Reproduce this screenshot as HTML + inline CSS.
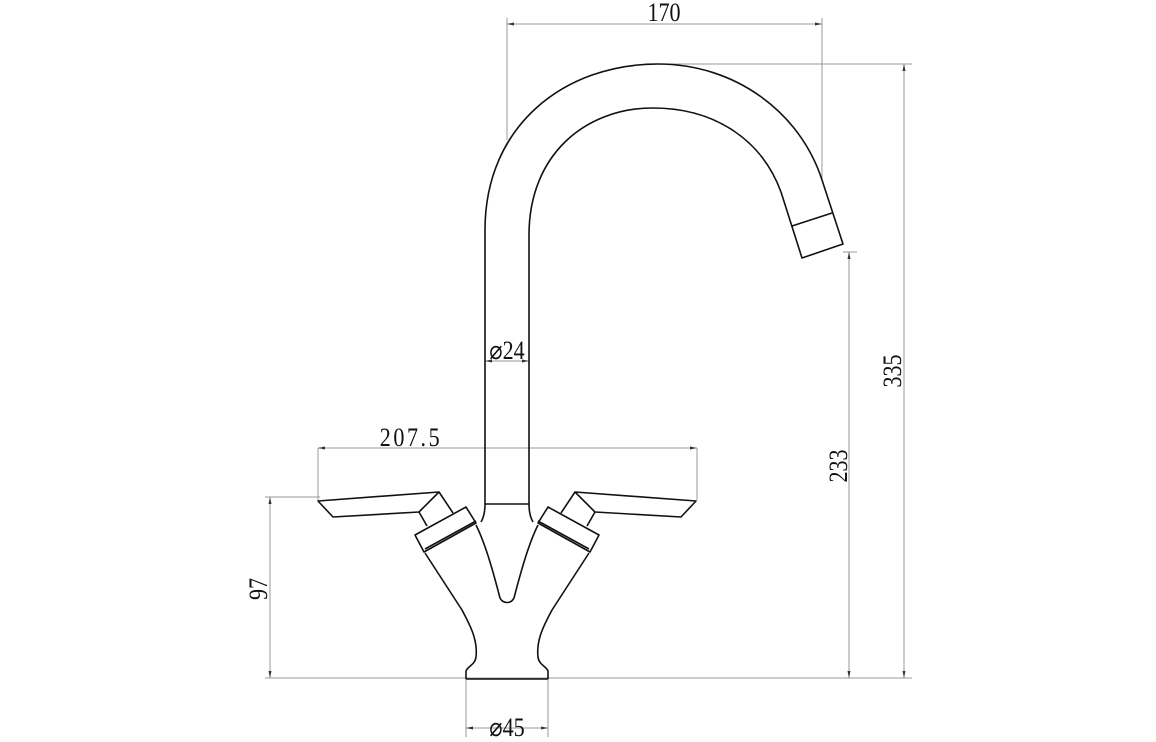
<!DOCTYPE html>
<html><head><meta charset="utf-8"><style>
html,body{margin:0;padding:0;background:#fff;}
svg{display:block}
text{font-family:"Liberation Serif",serif;fill:#111;font-size:26px;}
</style></head><body>
<svg width="1156" height="742" viewBox="0 0 1156 742" xmlns="http://www.w3.org/2000/svg">
<g stroke="#999" stroke-width="1" fill="none">
  <line x1="507" y1="18" x2="507" y2="140"/>
  <line x1="822" y1="18" x2="822" y2="180"/>
  <line x1="507" y1="24" x2="822" y2="24"/>
  <line x1="658" y1="64" x2="912" y2="64"/>
  <line x1="904" y1="64" x2="904" y2="678"/>
  <line x1="843" y1="252" x2="857" y2="252"/>
  <line x1="849" y1="252" x2="849" y2="678"/>
  <line x1="265" y1="678" x2="912" y2="678"/>
  <line x1="265" y1="497" x2="320" y2="497"/>
  <line x1="270" y1="497" x2="270" y2="678"/>
  <line x1="318" y1="448" x2="318" y2="500"/>
  <line x1="697" y1="448" x2="697" y2="500"/>
  <line x1="318" y1="448" x2="697" y2="448"/>
  <line x1="466" y1="678" x2="466" y2="737"/>
  <line x1="548" y1="678" x2="548" y2="737"/>
  <line x1="466" y1="728" x2="548" y2="728"/>
  <line x1="485" y1="361" x2="529" y2="361"/>
</g>
<g fill="#333">
  <polygon points="507,24 514,22.5 514,25.5"/>
  <polygon points="822,24 815,22.5 815,25.5"/>
  <polygon points="904,64 902.5,71 905.5,71"/>
  <polygon points="904,678 902.5,671 905.5,671"/>
  <polygon points="849,252 847.5,259 850.5,259"/>
  <polygon points="849,678 847.5,671 850.5,671"/>
  <polygon points="270,497 268.5,504 271.5,504"/>
  <polygon points="270,678 268.5,671 271.5,671"/>
  <polygon points="318,448 325,446.5 325,449.5"/>
  <polygon points="697,448 690,446.5 690,449.5"/>
  <polygon points="466,728 473,726.5 473,729.5"/>
  <polygon points="548,728 541,726.5 541,729.5"/>
  <polygon points="485,361 492,359.5 492,362.5"/>
  <polygon points="529,361 522,359.5 522,362.5"/>
</g>
<g stroke="#111" stroke-width="1.6" fill="none" stroke-linejoin="round">
  <path d="M485,504 L485,230 C485,125 565,64 658,64 C735,64 800,112 822,180 L843,244 L802,258 L781,192 C762,140 715,108 653,108 C585,108 529,155 529,235 L529,504"/>
  <line x1="792" y1="226" x2="832" y2="213"/>
  <line x1="485" y1="504" x2="529" y2="504"/>
  <path d="M485,504 C485,512 484,517 481,522"/>
  <path d="M529,504 C529,512 530,517 533,522"/>
  <path d="M476,525 C486,545 494,575 500,598 C503,604 511,604 514,598 C520,575 528,545 538,525"/>
  <path d="M466,679 L466,671 C468,666 475,665 476,657 C478,640 470,625 462,610 L425,553"/>
  <path d="M548,679 L548,671 C546,666 539,665 538,657 C536,640 544,625 552,610 L589,553"/>
  <line x1="466" y1="679" x2="548" y2="679"/>
  <g id="L">
    <polygon points="415,535 466,507 476,523 424,552"/>
    <line x1="425" y1="549" x2="476" y2="521"/>
    <polygon points="318,501 439,492 419,512 333,517"/>
    <line x1="419" y1="512" x2="427" y2="526"/>
    <line x1="439" y1="492" x2="453" y2="513"/>
  </g>
  <use href="#L" transform="matrix(-1 0 0 1 1014 0)"/>
</g>
<text transform="translate(664,21) scale(0.85,1)" text-anchor="middle">170</text>
<text transform="translate(411,446) scale(0.85,1)" text-anchor="middle" letter-spacing="3">207.5</text>
<text transform="translate(507,359) scale(0.85,1)" text-anchor="middle">⌀24</text>
<text transform="translate(507,736) scale(0.85,1)" text-anchor="middle">⌀45</text>
<text transform="translate(901,371) rotate(-90) scale(0.85,1)" text-anchor="middle">335</text>
<text transform="translate(847,466) rotate(-90) scale(0.85,1)" text-anchor="middle">233</text>
<text transform="translate(267,589) rotate(-90) scale(0.85,1)" text-anchor="middle">97</text>
</svg>
</body></html>
